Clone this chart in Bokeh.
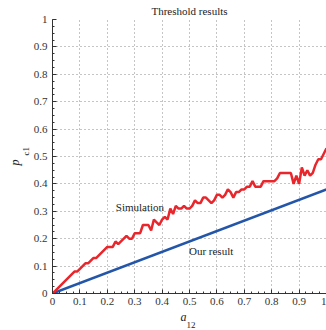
from bokeh.plotting import figure
from bokeh.models import Range1d, FixedTicker, Label, Title
from bokeh.embed import file_html
from bokeh.resources import INLINE

# --- data ---
a_sim = [round(i * 0.01, 2) for i in range(101)]
p_sim = [0.00, 0.01, 0.02, 0.03, 0.04, 0.05, 0.06, 0.07, 0.08, 0.08,
         0.09, 0.10, 0.11, 0.11, 0.12, 0.13, 0.13, 0.14, 0.15, 0.16,
         0.17, 0.17, 0.17, 0.19, 0.18, 0.19, 0.20, 0.21, 0.20, 0.20,
         0.22, 0.22, 0.22, 0.25, 0.25, 0.25, 0.23, 0.27, 0.26, 0.25,
         0.27, 0.28, 0.27, 0.31, 0.29, 0.32, 0.31, 0.31, 0.32, 0.31,
         0.31, 0.32, 0.34, 0.33, 0.33, 0.35, 0.35, 0.34, 0.33, 0.34,
         0.36, 0.36, 0.35, 0.36, 0.38, 0.37, 0.35, 0.37, 0.37, 0.38,
         0.38, 0.39, 0.39, 0.41, 0.39, 0.39, 0.39, 0.41, 0.41, 0.41,
         0.41, 0.41, 0.42, 0.44, 0.44, 0.44, 0.44, 0.44, 0.40, 0.43,
         0.40, 0.46, 0.43, 0.45, 0.43, 0.44, 0.47, 0.49, 0.49, 0.51,
         0.53]
a_ours = [0.0, 1.0]
p_ours = [0.0, 0.38]
ticks = [0, 0.1, 0.2, 0.3, 0.4, 0.5, 0.6, 0.7, 0.8, 0.9, 1]
tick_labels = ["0", "0.1", "0.2", "0.3", "0.4", "0.5", "0.6", "0.7", "0.8", "0.9", "1"]
title_text = "Threshold results"
sim_label = "Simulation"
ours_label = "Our result"

FONT = "Liberation Serif"
TXT = "#222222"

p = figure(width=326, height=330, output_backend="svg", toolbar_location=None,
           x_range=Range1d(0, 1), y_range=Range1d(0, 1),
           min_border_left=52, min_border_right=0, min_border_top=19,
           min_border_bottom=37)
p.outline_line_color = None
p.background_fill_color = "white"
p.border_fill_color = "white"

p.title.text = title_text
p.title.text_font = FONT
p.title.text_font_size = "11px"
p.title.text_font_style = "normal"
p.title.text_color = TXT
p.title.align = "center"
p.title.vertical_align = "top"
p.title.standoff = 2

minor = [round(i * 0.025, 3) for i in range(41)]
for ax in (p.xaxis[0], p.yaxis[0]):
    ax.ticker = FixedTicker(ticks=ticks, minor_ticks=minor)
    ax.major_label_overrides = {t: l for t, l in zip(ticks, tick_labels)}
    ax.major_label_text_font = FONT
    ax.major_label_text_font_size = "11px"
    ax.major_label_text_color = "#333333"
    ax.axis_line_color = "#333333"
    ax.axis_line_width = 1
    ax.major_tick_in = 4
    ax.major_tick_out = 0
    ax.minor_tick_in = 2
    ax.minor_tick_out = 0
    ax.major_tick_line_color = "#333333"
    ax.minor_tick_line_color = "#333333"
p.xaxis[0].major_label_standoff = 4
p.yaxis[0].major_label_standoff = 5
p.yaxis[0].major_label_orientation = "horizontal"

for g in (p.xgrid[0], p.ygrid[0]):
    g.ticker = FixedTicker(ticks=ticks)
    g.grid_line_color = "#8a8a8a"
    g.grid_line_dash = "1 3"
    g.grid_line_width = 1

p.line(a_ours, p_ours, line_color="#2356a8", line_width=2.5)
p.line(a_sim, p_sim, line_color="#e8262b", line_width=2.5)

p.add_layout(Label(x=0.319, y=0.314, text=sim_label, text_font=FONT,
                   text_font_size="11px", text_color=TXT,
                   text_align="center", text_baseline="middle"))
p.add_layout(Label(x=0.498, y=0.154, text=ours_label, text_font=FONT,
                   text_font_size="11px", text_color=TXT,
                   text_align="left", text_baseline="middle"))

# x axis label: a with subscript 12
p.add_layout(Title(text="a", align="left", offset=128, text_font=FONT,
                   text_font_style="italic", text_font_size="12px",
                   text_color=TXT, standoff=0), "below")
p.add_layout(Title(text="12", align="left", offset=134, text_font=FONT,
                   text_font_style="normal", text_font_size="9px",
                   text_color=TXT, standoff=-9), "below")

# y axis label: p with subscript c1 (c1 nearer the axis)
p.add_layout(Title(text="c1", align="left", offset=138, text_font=FONT,
                   text_font_style="normal", text_font_size="9px",
                   text_color=TXT, standoff=0), "left")
p.add_layout(Title(text="p", align="left", offset=128, text_font=FONT,
                   text_font_style="italic", text_font_size="12px",
                   text_color=TXT, standoff=-7), "left")

open("out.html", "w").write(file_html(p, INLINE))
